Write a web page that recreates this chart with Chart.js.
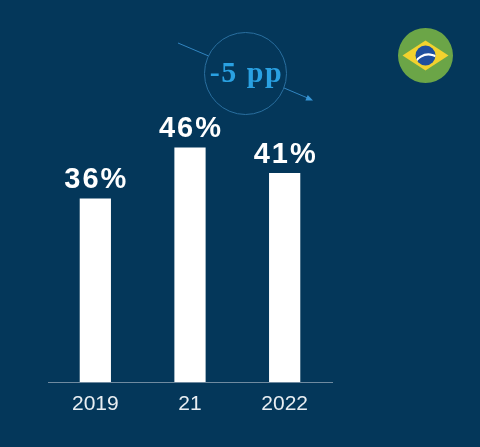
<!DOCTYPE html>
<html>
<head>
<meta charset="utf-8">
<script src="https://cdn.jsdelivr.net/npm/chart.js@4/dist/chart.umd.min.js"></script>
<style>
  html, body { margin: 0; padding: 0; background: #04375a; }
  #wrap { width: 480px; height: 447px; position: relative; }
</style>
</head>
<body>
<div id="wrap"><canvas id="c" width="480" height="447"></canvas></div>
<script>
const categories = ["2019", "21", "2022"];
const values = [36, 46, 41];
const valueLabels = ["36%", "46%", "41%"];
const changeLabel = "-5 pp";

const valueLabelPlugin = {
  id: "valueLabels",
  afterDatasetsDraw(chart) {
    const ctx = chart.ctx;
    const meta = chart.getDatasetMeta(0);
    ctx.save();
    ctx.fillStyle = "#ffffff";
    ctx.font = "bold 29px 'Liberation Sans', Arial, sans-serif";
    ctx.textAlign = "center";
    ctx.textBaseline = "alphabetic";
    try { ctx.letterSpacing = "2px"; } catch (e) {}
    meta.data.forEach((bar, i) => {
      ctx.fillText(valueLabels[i], bar.x + 1, bar.y - 10);
    });
    ctx.restore();
  }
};

const decorPlugin = {
  id: "decor",
  afterDraw(chart) {
    const ctx = chart.ctx;
    ctx.save();
    // change annotation: diagonal line with arrow, circle, text
    ctx.strokeStyle = "#3285c0";
    ctx.lineWidth = 1;
    ctx.beginPath();
    ctx.moveTo(178, 43);
    ctx.lineTo(310, 99);
    ctx.stroke();
    ctx.fillStyle = "#3595d6";
    ctx.beginPath();
    const ang = Math.atan2(99 - 43, 310 - 178);
    const tx = 313, ty = 100.5;
    ctx.moveTo(tx, ty);
    ctx.lineTo(tx - 7 * Math.cos(ang) + 3 * Math.sin(ang), ty - 7 * Math.sin(ang) - 3 * Math.cos(ang));
    ctx.lineTo(tx - 7 * Math.cos(ang) - 3 * Math.sin(ang), ty - 7 * Math.sin(ang) + 3 * Math.cos(ang));
    ctx.closePath();
    ctx.fill();

    ctx.fillStyle = "#04375a";
    ctx.beginPath();
    ctx.arc(245.5, 73.5, 41, 0, Math.PI * 2);
    ctx.fill();
    ctx.strokeStyle = "#2a6f9f";
    ctx.lineWidth = 1;
    ctx.stroke();

    ctx.fillStyle = "#2aa1e2";
    ctx.font = "bold 30px 'Liberation Serif', serif";
    ctx.textAlign = "center";
    ctx.textBaseline = "alphabetic";
    try { ctx.letterSpacing = "1.5px"; } catch (e) {}
    ctx.fillText(changeLabel, 246.5, 82);
    try { ctx.letterSpacing = "0px"; } catch (e) {}

    // Brazil flag badge
    const fx = 425.5, fy = 55.5;
    ctx.fillStyle = "#6ba547";
    ctx.beginPath();
    ctx.arc(fx, fy, 27.5, 0, Math.PI * 2);
    ctx.fill();
    ctx.fillStyle = "#f2d22e";
    ctx.beginPath();
    ctx.moveTo(fx - 23, fy);
    ctx.lineTo(fx, fy - 15);
    ctx.lineTo(fx + 23, fy);
    ctx.lineTo(fx, fy + 15);
    ctx.closePath();
    ctx.fill();
    ctx.fillStyle = "#1f4f9e";
    ctx.beginPath();
    ctx.arc(fx, fy, 10, 0, Math.PI * 2);
    ctx.fill();
    ctx.save();
    ctx.beginPath();
    ctx.arc(fx, fy, 10, 0, Math.PI * 2);
    ctx.clip();
    ctx.strokeStyle = "#ffffff";
    ctx.lineWidth = 2.2;
    ctx.beginPath();
    ctx.arc(fx + 3, fy + 14, 15, Math.PI * 1.08, Math.PI * 1.92);
    ctx.stroke();
    ctx.restore();
    ctx.restore();
  }
};

new Chart(document.getElementById("c"), {
  type: "bar",
  data: {
    labels: categories,
    datasets: [{
      data: values,
      backgroundColor: "#ffffff",
      borderWidth: 0,
      barPercentage: 0.33,
      categoryPercentage: 1.0
    }]
  },
  options: {
    responsive: false,
    animation: false,
    devicePixelRatio: 1,
    layout: { padding: { left: 48, right: 148, top: 25, bottom: 0 } },
    plugins: { legend: { display: false }, tooltip: { enabled: false } },
    scales: {
      x: {
        grid: { display: false, drawTicks: false },
        border: { display: true, color: "#6f8aa0", width: 1 },
        ticks: {
          color: "#e9eef2",
          font: { family: "'Liberation Sans', Arial, sans-serif", size: 21 },
          padding: 10
        },
        afterFit(scale) { scale.height = 65; }
      },
      y: {
        display: false,
        min: 0,
        max: 70
      }
    }
  },
  plugins: [valueLabelPlugin, decorPlugin]
});
</script>
</body>
</html>
